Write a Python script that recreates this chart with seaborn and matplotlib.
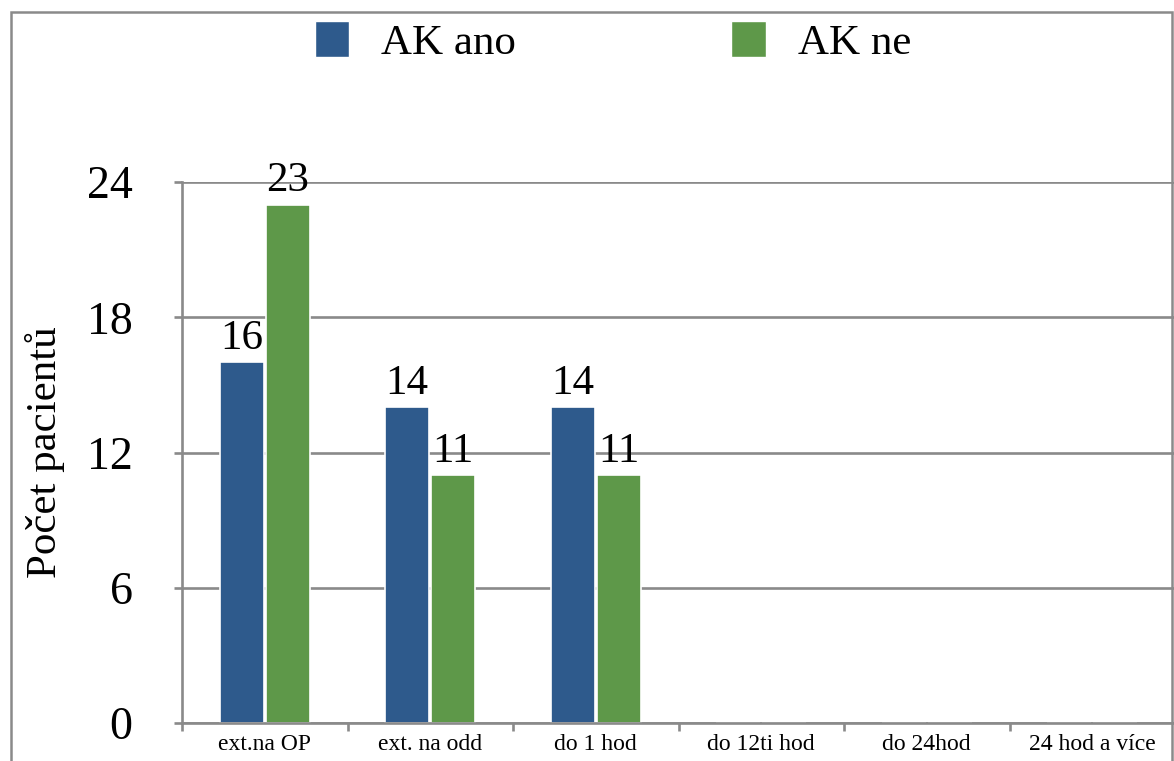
import numpy as np
import pandas as pd
import matplotlib
matplotlib.use("Agg")
import matplotlib.pyplot as plt
from matplotlib.patches import Rectangle, Patch
import seaborn as sns

# Data
categories = ["ext.na OP", "ext. na odd", "do 1 hod", "do 12ti hod", "do 24hod", "24 hod a více"]
ak_ano = [16, 14, 14, 0, 0, 0]
ak_ne = [23, 11, 11, 0, 0, 0]
series_names = ["AK ano", "AK ne"]
y_ticks = [0, 6, 12, 18, 24]
y_label = "Počet pacientů"

colors = {"AK ano": "#2E5A8C", "AK ne": "#5E9849"}
grid_gray = "#8a8a8a"

df = pd.DataFrame({
    "kategorie": categories * 2,
    "pocet": ak_ano + ak_ne,
    "skupina": [series_names[0]] * len(categories) + [series_names[1]] * len(categories),
})

sns.set_style("white")
plt.rcParams["font.family"] = ["Liberation Serif", "DejaVu Serif"]
plt.rcParams["text.color"] = "black"
plt.rcParams["axes.labelcolor"] = "black"
plt.rcParams["xtick.labelcolor"] = "black"
plt.rcParams["ytick.labelcolor"] = "black"

W, H = 1174, 761
fig = plt.figure(figsize=(W / 100, H / 100), dpi=100)
ax = fig.add_axes([182 / W, 38 / H, 993 / W, 541 / H])

sns.barplot(
    data=df, x="kategorie", y="pocet", hue="skupina",
    order=categories, hue_order=series_names, palette=colors, saturation=1,
    width=0.56, gap=0.05, edgecolor="white", linewidth=1.2,
    ax=ax, legend=False, errorbar=None,
)

ax.set_ylim(0, 24)
ax.set_xlim(-0.5, len(categories) - 0.5)
ax.set_yticks(y_ticks)
ax.yaxis.grid(True, color=grid_gray, linewidth=1.9)
ax.set_axisbelow(True)

for side in ("top", "right"):
    ax.spines[side].set_visible(False)
for side in ("left", "bottom"):
    ax.spines[side].set_color(grid_gray)
    ax.spines[side].set_linewidth(1.9)

ax.tick_params(axis="y", direction="out", length=5.5, width=1.9, color=grid_gray,
               labelsize=33, pad=30, left=True)
ax.tick_params(axis="x", which="major", length=0, labelsize=17, pad=8)
ax.set_xticks(np.arange(-0.5, len(categories), 1), minor=True)
ax.tick_params(axis="x", which="minor", direction="out", length=5.5, width=1.9,
               color=grid_gray, bottom=True)

ax.set_xlabel("")
ax.set_ylabel(y_label, fontsize=31, labelpad=16)

for cont in ax.containers:
    vals = [b.get_height() for b in cont]
    labels = [f"{v:.0f}" if v > 0 else "" for v in vals]
    ax.bar_label(cont, labels=labels, fontsize=31, padding=3)

handles = [Patch(facecolor=colors[n], edgecolor="white") for n in series_names]
fig.legend(handles, series_names, loc="center", bbox_to_anchor=(613 / W, 1 - 42 / H),
           ncol=2, frameon=False, fontsize=31, handlelength=0.8, handleheight=0.9,
           handletextpad=0.75, columnspacing=5.0)

# Outer chart frame
fig.patches.append(Rectangle((11 / W, -0.05), (1172 - 11) / W, 1 - 12 / H + 0.05,
                             transform=fig.transFigure, fill=False,
                             edgecolor=grid_gray, linewidth=1.8))

fig.savefig("out.png", dpi=100)
